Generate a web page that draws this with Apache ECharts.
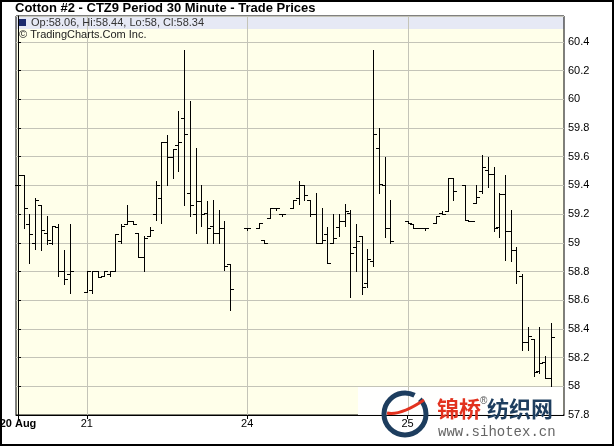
<!DOCTYPE html>
<html><head><meta charset="utf-8">
<script src="https://cdn.jsdelivr.net/npm/echarts@6/dist/echarts.min.js"></script>
<style>html,body{margin:0;padding:0;background:#fff}#c{width:614px;height:446px}</style>
</head><body><div id="c"></div>
<script>
// 30-minute slot index of each bar (28 slots per full session; day 20 partial)
const slots = [0,1,2,3,4,5,6,7,8,9,
  12,13,14,15,16,17,18,19,20,21,22,23,24,25,26,27,28,29,30,31,32,33,34,35,36,37,
  40,42,43,44,45,46,48,49,50,51,52,53,54,55,56,57,58,59,60,61,62,63,64,65,
  68,69,70,71,73,74,75,76,78,79,80,81,82,83,84,85,86,87,88,89,90,91,92,93];
const opens = [59.40,59.47,59.13,59.00,59.26,59.07,59.00,59.11,58.80,58.78,
  58.66,58.67,58.80,58.77,58.78,58.80,59.01,59.13,59.15,59.07,58.90,59.05,59.20,59.31,59.70,59.60,59.68,59.87,59.35,59.20,59.29,59.21,59.12,59.07,59.10,58.85,
  59.10,59.10,59.02,59.17,59.24,59.20,59.24,59.31,59.40,59.30,59.20,59.00,59.06,59.00,59.11,59.15,59.21,58.97,59.05,58.72,58.87,59.66,59.40,59.10,
  59.15,59.13,59.10,59.10,59.14,59.21,59.22,59.45,59.40,59.15,59.28,59.36,59.51,59.48,59.11,59.34,59.08,58.95,58.77,58.31,58.33,58.11,58.17,58.06];
const highs = [59.63,59.47,59.20,59.31,59.26,59.19,59.12,59.13,58.95,59.13,
  58.80,58.80,58.80,58.80,58.80,59.06,59.13,59.26,59.15,59.07,59.05,59.11,59.43,59.70,59.75,59.65,59.92,60.34,59.99,59.66,59.40,59.29,59.30,59.23,59.15,58.85,
  59.10,59.14,59.02,59.24,59.24,59.20,59.30,59.43,59.40,59.30,59.35,59.24,59.11,59.20,59.20,59.27,59.23,59.13,59.05,58.96,60.34,59.80,59.60,59.30,
  59.15,59.13,59.10,59.10,59.19,59.22,59.45,59.45,59.40,59.15,59.40,59.61,59.60,59.53,59.35,59.47,59.23,58.97,58.78,58.41,58.33,58.41,58.21,58.44];
const lows = [59.39,59.10,58.86,58.96,58.95,58.99,58.99,58.77,58.71,58.65,
  58.66,58.65,58.76,58.77,58.77,58.80,59.00,59.13,59.13,58.90,58.80,59.05,59.16,59.14,59.40,59.45,59.50,59.26,59.19,59.07,59.12,59.00,59.00,59.00,58.81,58.53,
  59.09,59.10,59.00,59.17,59.23,59.19,59.24,59.27,59.30,59.19,59.00,59.00,58.86,59.00,59.05,59.12,58.62,58.80,58.64,58.69,58.84,59.35,59.04,59.00,
  59.14,59.10,59.10,59.09,59.14,59.20,59.22,59.30,59.16,59.15,59.28,59.35,59.39,59.08,59.04,58.88,58.87,58.72,58.25,58.25,58.07,58.09,58.06,58.00];
const closes = [59.47,59.24,59.06,59.30,59.09,59.02,59.12,58.80,58.75,58.80,
  58.80,58.80,58.76,58.80,58.80,59.06,59.12,59.15,59.13,58.90,59.03,59.09,59.40,59.70,59.60,59.65,59.70,59.76,59.26,59.29,59.20,59.10,59.07,59.10,58.84,58.68,
  59.10,59.14,59.00,59.24,59.24,59.20,59.30,59.40,59.33,59.20,59.00,59.02,58.86,59.03,59.15,59.22,58.93,59.01,58.69,58.89,59.76,59.41,59.10,59.01,
  59.14,59.10,59.10,59.10,59.19,59.20,59.45,59.36,59.16,59.15,59.32,59.53,59.48,59.10,59.34,59.08,58.95,58.80,58.31,58.35,58.10,58.16,58.06,58.34];
const dayStartSlots = [0, 12, 40, 68];
const dayLabels = ['20 Aug', '21', '24', '25'];
const titleText = 'Cotton #2 - CTZ9 Period 30 Minute - Trade Prices';
const copyrightText = '\u00a9 TradingCharts.Com Inc.';

const ohlc = slots.map((s, i) => [s, opens[i], highs[i], lows[i], closes[i]]);
const last = ohlc.length - 1;
const f = v => String(+v.toFixed(2));
const legendText = 'Op:' + f(opens[last]) + ', Hi:' + f(highs[last]) + ', Lo:' + f(lows[last]) + ', Cl:' + f(closes[last]);

const FONT = '"Liberation Sans", Arial, sans-serif';
const GRID = '#c4c4b8';
const chart = echarts.init(document.getElementById('c'), null, {renderer: 'canvas'});

chart.setOption({
  animation: false,
  backgroundColor: '#ffffff',
  grid: {left: 16, right: 50, top: 16, bottom: 31, show: true, borderColor: '#000', borderWidth: 1,
         backgroundColor: 'transparent', outerBoundsMode: 'none', containLabel: false},
  xAxis: {
    type: 'value', min: -0.35, max: 95.3, z: 3,
    axisLine: {show: true, lineStyle: {color: '#000', width: 1}},
    axisTick: {show: true, length: 4, customValues: dayStartSlots, lineStyle: {color: '#000'}},
    axisLabel: {show: true, customValues: dayStartSlots, margin: 3, color: '#000', fontSize: 11, fontFamily: FONT,
      formatter: v => { const i = dayStartSlots.indexOf(Math.round(v)); return i === 0 ? '{b|' + dayLabels[0] + '}' : (i > 0 ? dayLabels[i] : ''); },
      rich: {b: {fontWeight: 'bold', fontSize: 11, fontFamily: FONT, color: '#000'}}},
    splitLine: {show: false}
  },
  yAxis: {
    type: 'value', position: 'right', min: 57.8, max: 60.58, interval: 0.2, z: 0,
    axisLine: {show: true, lineStyle: {color: '#000'}},
    axisTick: {show: true, length: 3, lineStyle: {color: '#000'}},
    axisLabel: {margin: 4, color: '#000', fontSize: 11, fontFamily: FONT, showMaxLabel: false,
      formatter: v => String(+(+v).toFixed(1))},
    splitLine: {show: true, lineStyle: {color: GRID, width: 1}}
  },
  series: [
    {
      type: 'custom', z: 1, silent: true,
      data: dayStartSlots.slice(1).map(s => [s]),
      encode: {x: 0},
      renderItem: (params, api) => {
        const cs = params.coordSys;
        const x = Math.round(api.coord([api.value(0), 58])[0]);
        return {type: 'rect', shape: {x: x, y: cs.y, width: 1, height: cs.height}, style: {fill: GRID}};
      }
    },
    {
      type: 'custom', z: 2, silent: true,
      data: ohlc,
      encode: {x: 0, y: [1, 2, 3, 4]},
      renderItem: (params, api) => {
        const s = api.value(0);
        const x = Math.round(api.coord([s, api.value(1)])[0]);
        const yO = Math.round(api.coord([s, api.value(1)])[1]);
        const yH = Math.round(api.coord([s, api.value(2)])[1]);
        const yL = Math.round(api.coord([s, api.value(3)])[1]);
        const yC = Math.round(api.coord([s, api.value(4)])[1]);
        const st = {fill: '#000'};
        return {type: 'group', children: [
          {type: 'rect', shape: {x: x, y: yH, width: 1, height: Math.max(1, yL - yH + 1)}, style: st},
          {type: 'rect', shape: {x: x - 3, y: yO, width: 3, height: 1}, style: st},
          {type: 'rect', shape: {x: x + 1, y: yC, width: 3, height: 1}, style: st}
        ]};
      }
    }
  ],
  graphic: [
    {type: 'rect', z: -10, silent: true, shape: {x: 16, y: 16, width: 548, height: 399}, style: {fill: '#ffffea'}},
    {type: 'rect', z: -5, silent: true, shape: {x: 16, y: 16, width: 548, height: 13}, style: {fill: '#e6e9f5'}},
    {type: 'rect', z: 10, silent: true, shape: {x: 19, y: 19, width: 7, height: 7}, style: {fill: '#1c2a6e'}},
    {type: 'text', z: 10, silent: true, x: 31, y: 23, style: {text: legendText, font: '11px ' + FONT, fill: '#333', verticalAlign: 'middle'}},
    {type: 'text', z: 10, silent: true, x: 19, y: 35, style: {text: copyrightText, font: '11px ' + FONT, fill: '#222', verticalAlign: 'middle'}},
    {type: 'text', z: 10, silent: true, x: 15, y: 8, style: {text: titleText, font: 'bold 13px ' + FONT, fill: '#000', verticalAlign: 'middle'}},
    // watermark overlay
    {type: 'rect', z: 1, silent: true, shape: {x: 358, y: 387, width: 205, height: 58}, style: {fill: 'rgba(255,255,255,0.92)'}},
    {type: 'arc', z: 20, silent: true, shape: {cx: 405, cy: 414, r: 21, startAngle: -Math.PI * 0.25, endAngle: Math.PI * 1.65}, style: {stroke: '#1d3d5e', lineWidth: 5, fill: null}},
    {type: 'bezierCurve', z: 21, silent: true, shape: {x1: 387, y1: 413, x2: 424, y2: 400, cpx1: 400, cpy1: 416}, style: {stroke: '#e2321f', lineWidth: 3, fill: null}},
    {type: 'text', z: 20, silent: true, x: 437, y: 409, style: {text: '锦桥', font: 'bold 22px "Noto Sans CJK SC", sans-serif', fill: '#e2321f', verticalAlign: 'middle'}},
    {type: 'text', z: 20, silent: true, x: 480, y: 401, style: {text: '®', font: '10px ' + FONT, fill: '#555', verticalAlign: 'middle'}},
    {type: 'text', z: 20, silent: true, x: 487, y: 409, style: {text: '纺织网', font: 'bold 22px "Noto Sans CJK SC", sans-serif', fill: '#1d3d5e', verticalAlign: 'middle'}},
    {type: 'text', z: 20, silent: true, x: 438, y: 432, style: {text: 'www.sihotex.cn', font: '14px "Liberation Mono", monospace', fill: '#666', verticalAlign: 'middle'}},
    {type: 'rect', z: 30, silent: true, shape: {x: 1, y: 1, width: 612, height: 444}, style: {fill: null, stroke: '#000', lineWidth: 2}}
  ]
});
</script></body></html>
